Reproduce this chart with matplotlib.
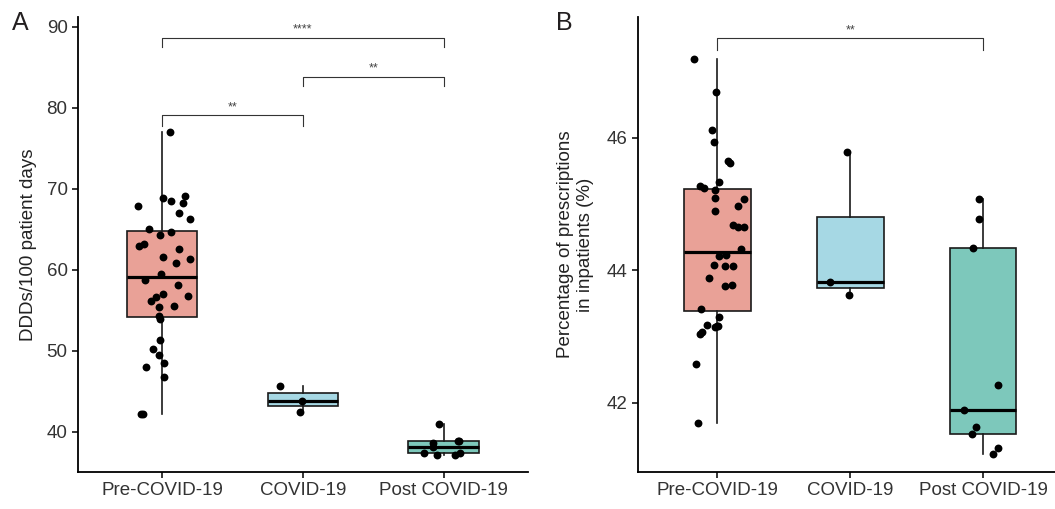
import matplotlib
matplotlib.use("Agg")
import matplotlib.pyplot as plt
import numpy as np

plt.rcParams['font.family'] = ['Liberation Sans', 'DejaVu Sans']

groups = ["Pre-COVID-19", "COVID-19", "Post COVID-19"]
box_colors = ["#E9A197", "#A6D8E4", "#7DC8BB"]

# panel A: DDDs/100 patient days
ddd_pre = [77.0, 68.85, 68.55, 69.05, 68.2, 67.9, 67.0, 66.3, 65.0, 64.35, 64.7, 63.0,
           63.2, 62.6, 61.6, 61.3, 60.9, 59.5, 58.8, 58.1, 56.8, 57.0, 56.6, 56.1,
           55.4, 55.5, 54.3, 53.9, 51.3, 50.2, 49.5, 48.5, 48.0, 46.8, 42.2, 42.2]
ddd_covid = [45.68, 43.87, 42.5]
ddd_post = [40.99, 38.68, 38.85, 38.9, 38.1, 37.37, 37.12, 37.2, 37.44]

# panel B: percentage of prescriptions in inpatients
pct_pre = [47.2, 46.70, 46.12, 45.94, 45.65, 45.62, 45.34, 45.27, 45.25, 45.22, 45.10, 45.08,
           44.97, 44.89, 44.69, 44.66, 44.66, 44.32, 44.22, 44.23, 44.08, 44.06, 44.07, 43.89,
           43.76, 43.78, 43.42, 43.30, 43.18, 43.14, 43.16, 43.15, 43.03, 43.06, 42.59, 41.69]
pct_covid = [45.79, 43.83, 43.62]
pct_post = [45.07, 44.78, 44.34, 42.27, 41.88, 41.63, 41.53, 41.32, 41.22]

# horizontal jitter of the dots (as drawn in the figure)
jit_a = [
    [0.055, 0.007, 0.06, 0.16, 0.15, -0.176, 0.116, 0.2, -0.098, -0.02, 0.064, -0.164,
     -0.13, 0.12, 0.007, 0.198, 0.1, -0.012, -0.12, 0.11, 0.18, 0.007, -0.045, -0.08,
     -0.026, 0.08, -0.026, -0.02, -0.02, -0.064, -0.024, 0.01, -0.116, 0.014, -0.155, -0.134],
    [-0.16, -0.005, -0.02],
    [-0.03, -0.074, 0.11, 0.1, -0.074, -0.136, -0.05, 0.08, 0.12],
]
jit_b = [
    [-0.178, -0.01, -0.043, -0.028, 0.077, 0.098, 0.008, -0.135, -0.098, -0.017, -0.02, 0.198,
     0.156, -0.02, 0.12, 0.153, 0.198, 0.18, 0.008, 0.062, -0.025, 0.055, 0.115, -0.065,
     0.06, 0.108, -0.123, 0.01, -0.077, -0.017, 0.005, 0.0, -0.128, -0.115, -0.16, -0.15],
    [-0.025, -0.156, -0.01],
    [-0.03, -0.035, -0.08, 0.113, -0.143, -0.058, -0.088, 0.108, 0.077],
]

# significance brackets: (x1, x2, y_line, y_tick_end, y_text, label)
sig_a = [(0, 2, 88.64, 87.47, 89.6, "****"),
         (1, 2, 83.83, 82.63, 84.8, "**"),
         (0, 1, 79.05, 77.8, 80.0, "**")]
sig_b = [(0, 2, 47.505, 47.33, 47.62, "**")]


def draw_panel(ax, data, jitter, ylim, yticks, xlim, ylabel, sigs, pad):
    bp = ax.boxplot(data, positions=range(len(data)), widths=0.5, patch_artist=True,
                    showfliers=False, showcaps=False,
                    medianprops=dict(color="black", linewidth=2.3),
                    boxprops=dict(edgecolor="#1a1a1a", linewidth=1.2),
                    whiskerprops=dict(color="#1a1a1a", linewidth=1.2))
    for patch, c in zip(bp['boxes'], box_colors):
        patch.set_facecolor(c)
    for i, (vals, jit) in enumerate(zip(data, jitter)):
        ax.scatter(np.array(jit) + i, vals, s=32, color="black", zorder=3, linewidths=0)
    for x1, x2, yl, ye, yt, lab in sigs:
        ax.plot([x1, x1, x2, x2], [ye, yl, yl, ye], color="#333333", linewidth=0.8)
        ax.text((x1 + x2) / 2, yt, lab, ha="center", va="center", fontsize=9, color="#444444")
    ax.set_xlim(*xlim)
    ax.set_ylim(*ylim)
    ax.set_yticks(yticks)
    ax.set_xticks(range(len(groups)))
    ax.set_xticklabels(groups)
    ax.set_ylabel(ylabel, fontsize=13.5, color="#222222", linespacing=1.2, labelpad=pad)
    for side in ["top", "right"]:
        ax.spines[side].set_visible(False)
    for side in ["left", "bottom"]:
        ax.spines[side].set_linewidth(1.3)
    ax.tick_params(axis="both", length=4, width=1.1, labelsize=13.5, labelcolor="#333333")


fig = plt.figure(figsize=(10.55, 5.09), dpi=100)
ax1 = fig.add_axes([0.0739, 0.0727, 0.4265, 0.894])
ax2 = fig.add_axes([0.6045, 0.0727, 0.3955, 0.894])

draw_panel(ax1, [ddd_pre, ddd_covid, ddd_post], jit_a, (35.06, 91.2), [40, 50, 60, 70, 80, 90],
           (-0.6, 2.6), "DDDs/100 patient days", sig_a, 7)
draw_panel(ax2, [pct_pre, pct_covid, pct_post], jit_b, (40.95, 47.83), [42, 44, 46],
           (-0.6, 2.54), "Percentage of prescriptions\nin inpatients (%)", sig_b, 9)

fig.text(0.011, 0.955, "A", fontsize=18, color="#231F20", va="center")
fig.text(0.527, 0.955, "B", fontsize=18, color="#231F20", va="center")

fig.savefig("out.png", dpi=100)
